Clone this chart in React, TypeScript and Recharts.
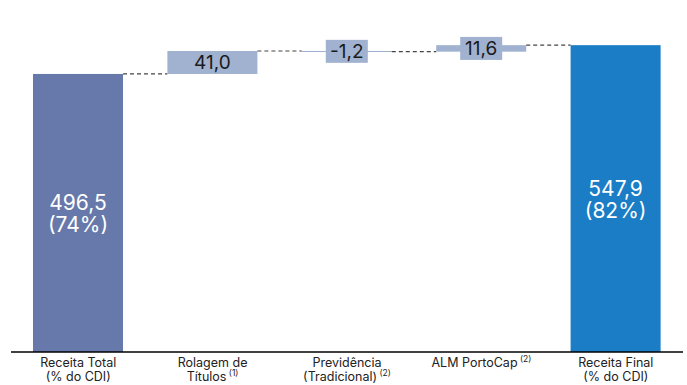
import React from "react";
import { BarChart, Bar, XAxis, YAxis, LabelList } from "recharts";

const categories = [
  ["Receita Total", "(% do CDI)", ""],
  ["Rolagem de", "Títulos", "(1)"],
  ["Previdência", "(Tradicional)", "(2)"],
  ["ALM PortoCap", "", "(2)"],
  ["Receita Final", "(% do CDI)", ""],
];
const values = [496.5, 41.0, -1.2, 11.6, 547.9];
const percents = ["74%", "", "", "", "82%"];
const kinds = ["total", "delta", "delta", "delta", "total"];

const COLORS = { first: "#6779aa", delta: "#a0b2d0", last: "#1a7dc5" };
const FONT = "Inter, 'Noto Sans', sans-serif";

const W = 687;
const H = 385;
const MARGIN = { top: 16, right: 4, left: 11, bottom: 0 };
const BAR_SIZE = 90;
const BAND = (W - MARGIN.left - MARGIN.right) / categories.length;
const GAP = BAND - BAR_SIZE;

// running totals -> invisible base + visible step for the waterfall
let running = 0;
const data = values.map((v, i) => {
  let base = 0;
  let size = v;
  if (kinds[i] === "total") {
    running = v;
  } else {
    base = v < 0 ? running + v : running;
    size = Math.abs(v);
    running += v;
  }
  return { name: String(i), base, size, value: v, pct: percents[i], kind: kinds[i], idx: i };
});

const fmt = (v: number) => v.toFixed(1).replace(".", ",");

function colorFor(i: number) {
  if (i === 0) return COLORS.first;
  if (i === data.length - 1) return COLORS.last;
  return COLORS.delta;
}

function StepShape(props: any) {
  const { x, y, width, height, payload } = props;
  const i = payload.idx;
  const h = Math.max(height, 1);
  const level = payload.value < 0 ? y + height : y;
  return (
    <g>
      <rect x={x} y={y} width={width} height={h} fill={colorFor(i)} />
      {i < data.length - 1 && (
        <line
          x1={x + width}
          x2={x + width + GAP}
          y1={level}
          y2={level}
          stroke="#444"
          strokeWidth={1.2}
          strokeDasharray="4 3"
        />
      )}
    </g>
  );
}

function StepLabel(props: any) {
  const { x, y, width, height, index } = props;
  const d = data[index];
  const cx = x + width / 2;
  const cy = y + height / 2;
  if (d.kind === "total") {
    return (
      <g>
        <text x={cx} y={cy - 3} textAnchor="middle" fill="#fff" fontFamily={FONT} fontSize={21}>
          {fmt(d.value)}
        </text>
        <text x={cx} y={cy + 19} textAnchor="middle" fill="#fff" fontFamily={FONT} fontSize={21}>
          ({d.pct})
        </text>
      </g>
    );
  }
  const txt = fmt(d.value);
  const bw = txt.length * 10 + 2;
  return (
    <g>
      {height < 20 && (
        <rect x={cx - bw / 2} y={cy - 11.5} width={bw} height={23} fill={COLORS.delta} />
      )}
      <text x={cx} y={cy + 7} textAnchor="middle" fill="#1a1a1a" fontFamily={FONT} fontSize={19}>
        {txt}
      </text>
    </g>
  );
}

function CategoryTick(props: any) {
  const { x, payload } = props;
  const [l1, l2, sup] = categories[Number(payload.value)];
  const base = 352;
  const supEl = sup ? (
    <tspan fontSize={8.5} dy={-5}> {sup}</tspan>
  ) : null;
  return (
    <g>
      <text x={x} y={base + 15} textAnchor="middle" fill="#222" fontFamily={FONT} fontSize={12.5}>
        {l1}
        {!l2 && supEl}
      </text>
      {l2 && (
        <text x={x} y={base + 29} textAnchor="middle" fill="#222" fontFamily={FONT} fontSize={12.5}>
          {l2}
          {supEl}
        </text>
      )}
    </g>
  );
}

export default function App() {
  return (
    <div style={{ position: "fixed", left: 0, top: 0, width: W, height: H, background: "#fff" }}>
      <BarChart width={W} height={H} data={data} margin={MARGIN} barSize={BAR_SIZE}>
        <XAxis
          dataKey="name"
          tick={<CategoryTick />}
          tickLine={false}
          axisLine={{ stroke: "#000", strokeWidth: 1.5 }}
          height={33}
          interval={0}
        />
        <YAxis hide domain={[0, 600]} />
        <Bar dataKey="base" stackId="a" fill="transparent" isAnimationActive={false} />
        <Bar dataKey="size" stackId="a" shape={<StepShape />} isAnimationActive={false}>
          <LabelList dataKey="size" content={<StepLabel />} />
        </Bar>
      </BarChart>
    </div>
  );
}
